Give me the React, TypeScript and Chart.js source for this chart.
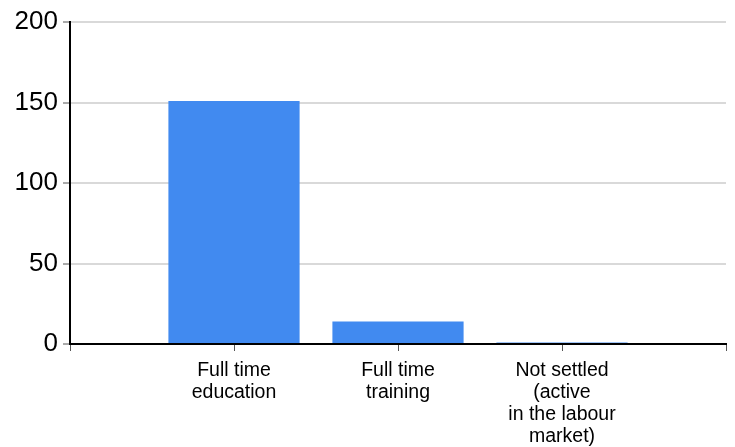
import React, { useEffect, useRef } from "react";
import { Chart, registerables } from "chart.js";

Chart.register(...registerables);

const categories: (string | string[])[] = [
  "",
  ["Full time", "education"],
  ["Full time", "training"],
  ["Not settled", "(active", "in the labour", "market)"],
  "",
];
const values: (number | null)[] = [null, 151, 14, 1, null];
const yTicks = [0, 50, 100, 150, 200];

export default function App() {
  const ref = useRef<HTMLCanvasElement | null>(null);
  useEffect(() => {
    document.body.style.margin = "0";
    const ctx = ref.current!;
    const chart = new Chart(ctx, {
      type: "bar",
      data: {
        labels: categories as any,
        datasets: [
          {
            data: values,
            backgroundColor: "#418AF0",
            borderWidth: 0,
            barPercentage: 0.8,
            categoryPercentage: 1,
          },
        ],
      },
      options: {
        animation: false,
        responsive: false,
        maintainAspectRatio: false,
        layout: { padding: { left: 0, right: 3, top: 22, bottom: 0 } },
        plugins: { legend: { display: false }, tooltip: { enabled: false } },
        scales: {
          x: {
            offset: false,
            grid: {
              offset: false,
              drawOnChartArea: false,
              drawTicks: true,
              tickLength: 7,
              tickColor: "#555",
              tickWidth: 1,
            },
            border: { color: "#000", width: 2 },
            ticks: {
              color: "#000",
              autoSkip: false,
              maxRotation: 0,
              padding: 9,
              font: { family: "Liberation Sans, Arial, sans-serif", size: 19.5, lineHeight: 1.13 },
            },
            afterFit: (s: any) => {
              s.height = 103;
            },
          },
          y: {
            min: 0,
            max: 200,
            afterBuildTicks: (s: any) => {
              s.ticks = yTicks.map((v) => ({ value: v }));
            },
            grid: {
              color: "#d9d9d9",
              lineWidth: 2,
              drawTicks: true,
              tickLength: 7,
              tickColor: "#555",
              tickWidth: 1,
            },
            border: { color: "#000", width: 2 },
            ticks: {
              color: "#000",
              padding: 5,
              font: { family: "Liberation Sans, Arial, sans-serif", size: 26 },
            },
            afterFit: (s: any) => {
              s.width = 70;
            },
          },
        },
      },
    });
    return () => chart.destroy();
  }, []);
  return (
    <div style={{ width: 735, height: 447 }}>
      <canvas ref={ref} width={735} height={447} style={{ display: "block" }} />
    </div>
  );
}
